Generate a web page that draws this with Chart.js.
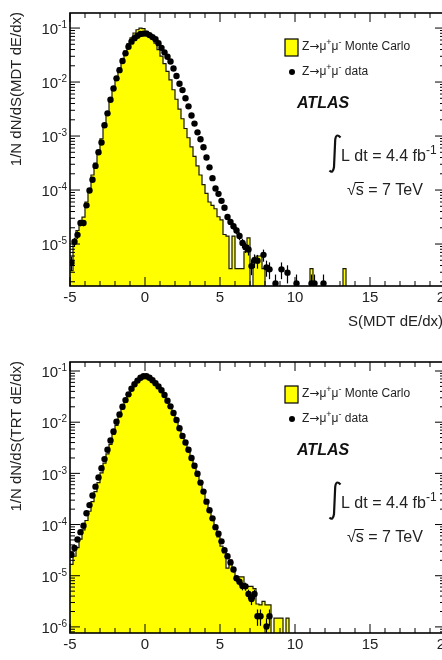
<!DOCTYPE html>
<html>
<head>
<meta charset="utf-8">
<script src="https://cdn.jsdelivr.net/npm/chart.js@4.4.1/dist/chart.umd.min.js"></script>
<style>
  html, body { margin: 0; padding: 0; background: #fff; overflow: hidden; }
  #wrap { position: relative; width: 442px; height: 660px; overflow: hidden; }
  canvas { position: absolute; left: 0; }
  #topChart { top: 0; }
  #botChart { top: 330px; }
</style>
</head>
<body>
<div id="wrap">
  <canvas id="topChart" width="520" height="330"></canvas>
  <canvas id="botChart" width="520" height="330"></canvas>
</div>
<script>
// histogram binning (bin edges start at -5, width 0.2)
const firstEdge = -5;
const binWidth = 0.2;
const xTickLabels = [-5, 0, 5, 10, 15, 20];

// ---- top panel: MDT dE/dx ----
const topRange = [1.67e-6, 0.19];
const topDecades = [-1, -2, -3, -4, -5];
const mcTop = [
  3.2e-6, 1.12e-5, 1.78e-5, 2.24e-5, 3.16e-5, 6.0e-5, 1.05e-4, 1.9e-4, 3.16e-4, 5.4e-4,
  8.9e-4, 1.58e-3, 2.63e-3, 4.47e-3, 7.4e-3, 1.2e-2, 1.82e-2, 2.69e-2, 3.8e-2, 5.13e-2,
  6.6e-2, 8.1e-2, 9.3e-2, 0.100, 9.8e-2, 8.7e-2, 7.6e-2, 6.5e-2, 5.25e-2, 3.98e-2,
  3.02e-2, 2.19e-2, 1.58e-2, 1.1e-2, 7.2e-3, 4.8e-3, 3.16e-3, 2.09e-3, 1.38e-3, 9.3e-4,
  6.3e-4, 4.2e-4, 2.8e-4, 1.9e-4, 1.26e-4, 8.7e-5, 6.0e-5, 5.2e-5, 4.5e-5, 3.2e-5,
  2.8e-5, 1.5e-5, 1.4e-5, 3.5e-6, 1.4e-5, 3.5e-6, 3.5e-6, 3.5e-6, 7.2e-6, 1.3e-5,
  0, 5.5e-6, 6.0e-6, 6.0e-6, 3.5e-6, 0, 0, 0, 0, 0,
  0, 0, 0, 0, 0, 0, 0, 0, 0, 0,
  3.5e-6, 0, 0, 0, 0, 0, 0, 0, 0, 0,
  0, 3.5e-6, 0, 0, 0
];
const dataTop = [
  4.5e-6, 1.1e-5, 1.48e-5, 2.45e-5, 2.45e-5, 5.2e-5, 9.8e-5, 1.55e-4, 2.8e-4, 5.0e-4,
  7.6e-4, 1.58e-3, 2.63e-3, 4.7e-3, 7.6e-3, 1.17e-2, 1.66e-2, 2.45e-2, 3.4e-2, 4.5e-2,
  5.6e-2, 6.5e-2, 7.2e-2, 7.8e-2, 7.9e-2, 7.9e-2, 7.4e-2, 6.8e-2, 6.2e-2, 5.25e-2,
  4.3e-2, 3.55e-2, 2.95e-2, 2.4e-2, 1.78e-2, 1.29e-2, 9.3e-3, 7.1e-3, 5.0e-3, 3.55e-3,
  2.4e-3, 1.7e-3, 1.17e-3, 8.7e-4, 6.2e-4, 4.0e-4, 2.63e-4, 1.66e-4, 1.07e-4, 8.5e-5,
  6.3e-5, 4.7e-5, 3.16e-5, 2.57e-5, 2.14e-5, 1.78e-5, 1.41e-5, 1.05e-5, 8.7e-6, 7.9e-6,
  3.9e-6, 5.0e-6, 4.9e-6, null, 6.3e-6, 3.7e-6, 3.4e-6, null, 1.86e-6, null,
  3.4e-6, null, 2.95e-6, null, null, 1.86e-6, null, null, null, null,
  1.86e-6, 1.86e-6, null, null, 1.86e-6
];

// ---- bottom panel: TRT dE/dx ----
const botRange = [7.6e-7, 0.15];
const botDecades = [-1, -2, -3, -4, -5, -6];
const mcBot = [
  1.66e-5, 2.4e-5, 3.55e-5, 5.2e-5, 7.9e-5, 1.2e-4, 1.82e-4, 2.8e-4, 4.4e-4, 6.6e-4,
  1.02e-3, 1.58e-3, 2.4e-3, 3.7e-3, 5.75e-3, 8.7e-3, 1.29e-2, 1.82e-2, 2.5e-2, 3.3e-2,
  4.3e-2, 5.4e-2, 6.5e-2, 7.4e-2, 8.3e-2, 8.3e-2, 7.4e-2, 6.6e-2, 5.75e-2, 4.9e-2,
  4.1e-2, 3.3e-2, 2.63e-2, 2.0e-2, 1.48e-2, 1.07e-2, 7.6e-3, 5.4e-3, 3.8e-3, 2.7e-3,
  1.86e-3, 1.29e-3, 8.9e-4, 6.0e-4, 4.1e-4, 2.7e-4, 1.82e-4, 1.23e-4, 8.3e-5, 5.75e-5,
  3.8e-5, 2.8e-5, 1.41e-5, 2.04e-5, 1.41e-5, 9.5e-6, 9.5e-6, 9.5e-6, 6.2e-6, 6.2e-6,
  6.2e-6, 5.6e-6, 2.8e-6, 2.7e-6, 3.16e-6, 2.7e-6, 2.7e-6, 0, 1.48e-6, 1.48e-6,
  1.48e-6, 0, 1.48e-6
];
const dataBot = [
  2.57e-5, 3.47e-5, 5.1e-5, 7.1e-5, 9.5e-5, 1.66e-4, 2.4e-4, 3.7e-4, 5.5e-4, 8.3e-4,
  1.26e-3, 1.9e-3, 2.9e-3, 4.4e-3, 6.6e-3, 1.02e-2, 1.41e-2, 2.0e-2, 2.7e-2, 3.5e-2,
  4.5e-2, 5.5e-2, 6.5e-2, 7.4e-2, 7.9e-2, 7.9e-2, 7.4e-2, 6.6e-2, 5.75e-2, 5.0e-2,
  4.2e-2, 3.4e-2, 2.63e-2, 2.04e-2, 1.51e-2, 1.1e-2, 7.6e-3, 5.4e-3, 4.0e-3, 2.9e-3,
  2.0e-3, 1.41e-3, 9.8e-4, 6.6e-4, 4.4e-4, 2.8e-4, 1.9e-4, 1.32e-4, 8.9e-5, 6.6e-5,
  4.7e-5, 3.16e-5, 2.4e-5, 1.82e-5, 1.32e-5, 8.9e-6, 7.6e-6, 6.3e-6, 6.2e-6, 4.4e-6,
  3.5e-6, 4.4e-6, 1.62e-6, 1.62e-6, null, 1.02e-6, 1.62e-6
];

const FONT = '"Liberation Sans", Arial, Helvetica, sans-serif';
const ARROW_FONT = '"DejaVu Sans", sans-serif';
const INK = '#222';
const BELOW = 1e-9; // empty bins: drop the outline below the axis

// stepped outline: one point per left edge, closing edge, then down to the floor
function histPoints(vals) {
  const pts = vals.map((v, i) => ({ x: firstEdge + i * binWidth, y: v > 0 ? v : BELOW }));
  const end = firstEdge + vals.length * binWidth;
  pts.push({ x: end, y: pts[pts.length - 1].y });
  pts.push({ x: end, y: BELOW });
  return pts;
}

function dataPoints(vals) {
  return vals
    .map((v, i) => ({ x: firstEdge + (i + 0.5) * binWidth, y: v }))
    .filter(p => p.y !== null);
}

// text with raised pieces, parts = [[text, isSup, fontFamily], ...]
function rich(ctx, x, y, parts, size) {
  let cx = x;
  parts.forEach(([t, sup, fam]) => {
    ctx.font = (sup ? Math.round(size * 0.72) : size) + 'px ' + (fam || FONT);
    ctx.fillText(t, cx, sup ? y - size * 0.4 : y);
    cx += ctx.measureText(t).width;
  });
  return cx;
}

function zmumu(tail) {
  return [['Z'], ['\u2192', 0, ARROW_FONT], ['\u03bc'], ['+', 1], ['\u03bc'], ['-', 1], [tail]];
}

function drawLegend(ctx, dy) {
  ctx.fillStyle = '#ffff00';
  ctx.fillRect(285, 39 + dy, 13, 17);
  ctx.strokeStyle = '#000';
  ctx.lineWidth = 1.2;
  ctx.strokeRect(285, 39 + dy, 13, 17);

  ctx.fillStyle = INK;
  ctx.textAlign = 'left';
  ctx.textBaseline = 'middle';
  rich(ctx, 302, 47 + dy, zmumu(' Monte Carlo'), 12);

  ctx.fillStyle = '#000';
  ctx.beginPath();
  ctx.arc(292, 72 + dy, 3, 0, Math.PI * 2);
  ctx.fill();
  ctx.fillStyle = INK;
  rich(ctx, 302, 72 + dy, zmumu(' data'), 12);

  ctx.font = 'italic bold 16px ' + FONT;
  ctx.fillStyle = '#111';
  ctx.fillText('ATLAS', 297, 104 + dy);

  // integral sign
  ctx.strokeStyle = '#111';
  ctx.lineWidth = 2.2;
  ctx.beginPath();
  ctx.moveTo(340.5, 137.5 + dy);
  ctx.quadraticCurveTo(336, 132.5 + dy, 335.2, 140 + dy);
  ctx.lineTo(334, 167 + dy);
  ctx.quadraticCurveTo(333, 174 + dy, 329.5, 170.5 + dy);
  ctx.stroke();

  ctx.fillStyle = INK;
  rich(ctx, 341, 157 + dy, [['L dt = 4.4 fb'], ['-1', 1]], 16);

  ctx.font = '16px ' + FONT;
  const wRoot = ctx.measureText('\u221A').width;
  const wS = ctx.measureText('s').width;
  ctx.fillText('\u221As = 7 TeV', 347, 191 + dy);
  ctx.lineWidth = 1;
  ctx.beginPath();
  ctx.moveTo(347 + wRoot - 1, 182.5 + dy);
  ctx.lineTo(347 + wRoot + wS, 182.5 + dy);
  ctx.stroke();
}

function decor(p) {
  return {
    id: 'decor',
    afterDatasetsDraw(chart) {
      // vertical Poisson-like error bars on the data points
      const { ctx, chartArea: a } = chart;
      const ys = chart.scales.y;
      const meta = chart.getDatasetMeta(0);
      const raw = chart.data.datasets[0].data;
      ctx.save();
      ctx.beginPath();
      ctx.rect(a.left, a.top, a.right - a.left, a.bottom - a.top);
      ctx.clip();
      ctx.strokeStyle = '#000';
      ctx.lineWidth = 1.2;
      meta.data.forEach((pt, i) => {
        const v = raw[i].y;
        const e = Math.sqrt(v * p.weight);
        const yLo = v - e > 0 ? ys.getPixelForValue(v - e) : a.bottom;
        const yHi = ys.getPixelForValue(v + e);
        ctx.beginPath();
        ctx.moveTo(pt.x, yLo);
        ctx.lineTo(pt.x, yHi);
        ctx.stroke();
      });
      ctx.restore();
    },
    afterDraw(chart) {
      const { ctx, chartArea: a } = chart;
      const xs = chart.scales.x, ys = chart.scales.y;
      ctx.save();
      ctx.strokeStyle = '#000';

      // x ticks (bottom and top, inward)
      ctx.lineWidth = 1;
      for (let v = xs.min; v <= xs.max; v++) {
        const x = xs.getPixelForValue(v);
        const len = v % 5 === 0 ? 9 : 5;
        ctx.beginPath();
        ctx.moveTo(x, a.bottom); ctx.lineTo(x, a.bottom - len);
        ctx.moveTo(x, a.top); ctx.lineTo(x, a.top + len);
        ctx.stroke();
      }
      // y ticks, log decades with minor 2..9
      const d0 = Math.floor(Math.log10(ys.min)), d1 = Math.ceil(Math.log10(ys.max));
      for (let d = d0; d <= d1; d++) {
        for (let k = 1; k <= 9; k++) {
          const v = k * Math.pow(10, d);
          if (v < ys.min || v > ys.max) continue;
          const y = ys.getPixelForValue(v);
          const len = k === 1 ? 10 : 5;
          ctx.beginPath();
          ctx.moveTo(a.left, y); ctx.lineTo(a.left + len, y);
          ctx.moveTo(a.right, y); ctx.lineTo(a.right - len, y);
          ctx.stroke();
        }
      }
      // frame
      ctx.lineWidth = 1.6;
      ctx.strokeRect(a.left, a.top, a.right - a.left, a.bottom - a.top);

      // tick labels
      ctx.fillStyle = INK;
      ctx.textBaseline = 'middle';
      ctx.textAlign = 'center';
      ctx.font = '15px ' + FONT;
      xTickLabels.forEach(v => {
        ctx.fillText(String(v), xs.getPixelForValue(v), a.bottom + 11.5);
      });
      ctx.textAlign = 'left';
      p.decades.forEach(e => {
        const y = ys.getPixelForValue(Math.pow(10, e));
        ctx.font = '10px ' + FONT;
        const ew = ctx.measureText(String(e)).width;
        ctx.font = '15px ' + FONT;
        const tw = ctx.measureText('10').width;
        ctx.fillText('10', 67 - ew - tw, y + 2);
        ctx.font = '10px ' + FONT;
        ctx.fillText(String(e), 67 - ew, y - 2.5);
      });

      // axis titles
      ctx.font = '15px ' + FONT;
      ctx.save();
      ctx.translate(17, a.top - 1);
      ctx.rotate(-Math.PI / 2);
      ctx.textAlign = 'right';
      ctx.fillText(p.yTitle, 0, 0);
      ctx.restore();
      if (p.xTitle) {
        ctx.textAlign = 'left';
        ctx.fillText(p.xTitle, 348, 322);
      }

      drawLegend(ctx, p.legendDy);
      ctx.restore();
    }
  };
}

function makeChart(id, mcVals, dataVals, range, pad, extra) {
  return new Chart(document.getElementById(id), {
    type: 'line',
    data: {
      datasets: [
        {
          type: 'scatter',
          data: dataPoints(dataVals),
          pointRadius: 3.2,
          pointHoverRadius: 3.2,
          backgroundColor: '#000',
          borderWidth: 0,
          order: 0
        },
        {
          type: 'line',
          data: histPoints(mcVals),
          stepped: 'before',
          fill: 'start',
          backgroundColor: '#ffff00',
          borderColor: '#1a1a00',
          borderWidth: 1.2,
          pointRadius: 0,
          tension: 0,
          order: 1
        }
      ]
    },
    options: {
      responsive: false,
      animation: false,
      events: [],
      layout: { padding: pad },
      plugins: { legend: { display: false }, tooltip: { enabled: false } },
      scales: {
        x: { type: 'linear', min: -5, max: 20, display: false },
        y: { type: 'logarithmic', min: range[0], max: range[1], display: false }
      }
    },
    plugins: [decor(extra)]
  });
}

makeChart('topChart', mcTop, dataTop, topRange,
  { left: 70, top: 13, right: 75, bottom: 44 },
  { decades: topDecades, yTitle: '1/N dN/dS(MDT dE/dx)', xTitle: 'S(MDT dE/dx)', legendDy: 0, weight: 4e-7 });

makeChart('botChart', mcBot, dataBot, botRange,
  { left: 70, top: 32, right: 75, bottom: 27 },
  { decades: botDecades, yTitle: '1/N dN/dS(TRT dE/dx)', xTitle: null, legendDy: 17, weight: 2e-7 });
</script>
</body>
</html>
